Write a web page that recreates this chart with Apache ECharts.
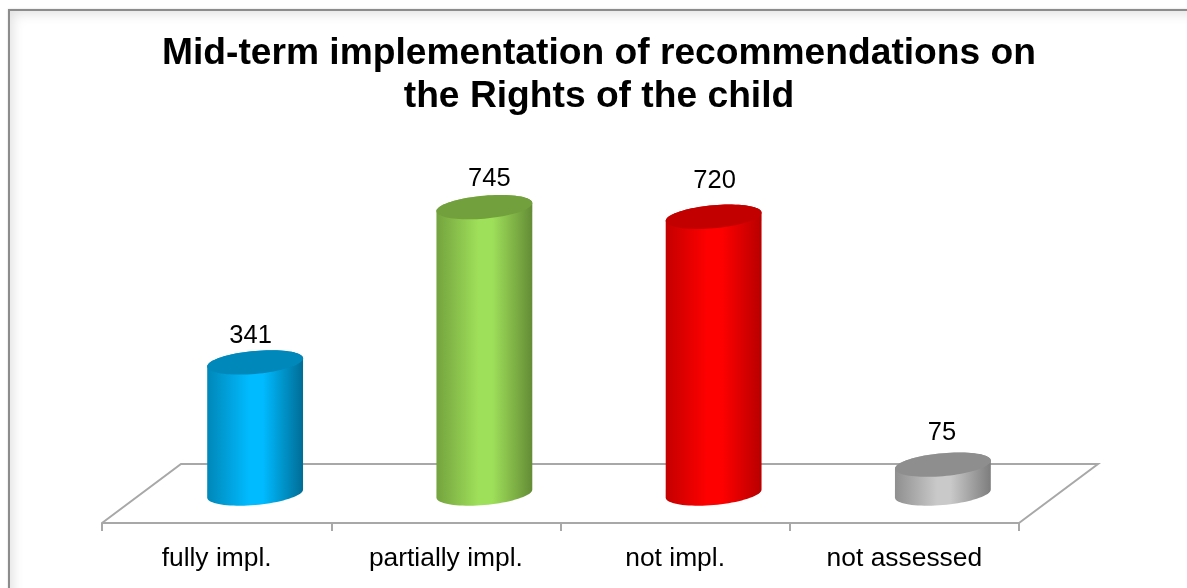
<!DOCTYPE html>
<html>
<head>
<meta charset="utf-8">
<style>
html,body{margin:0;padding:0;background:#fff;width:1187px;height:588px;overflow:hidden}
#frame{position:absolute;left:8px;top:9px;width:1300px;height:700px;border:2px solid #8c8c8c;box-shadow:inset 0 0 12px 3px rgba(0,0,0,.12),0 0 2px rgba(0,0,0,.15);box-sizing:border-box}
#chart{position:absolute;left:0;top:0;width:1187px;height:588px}
</style>
<script src="https://cdn.jsdelivr.net/npm/echarts@6/dist/echarts.min.js"></script>
</head>
<body>
<div id="frame"></div>
<div id="chart"></div>
<script>
var titleText = 'Mid-term implementation of recommendations on\nthe Rights of the child';
var categories = ['fully impl.', 'partially impl.', 'not impl.', 'not assessed'];
var values = [341, 745, 720, 75];

// style only
var palette = [
  {edge:'#0087b8', mid:'#00bbff', dark:'#006d96', top:'#0088ba'},
  {edge:'#74a33e', mid:'#9fe05a', dark:'#648c36', top:'#72a03c'},
  {edge:'#c40000', mid:'#ff0000', dark:'#b80000', top:'#c20000'},
  {edge:'#8f8f8f', mid:'#c9c9c9', dark:'#7d7d7d', top:'#8e8e8e'}
];
var depthX = 79, depthY = 59, floorDrop = 29.5;
var labelShift = [[-4.5, -26], [5, -28], [1, -36], [-1, -32]];
var gridColor = '#a8a8a8';

function ellipsePts(cx, cy, a, b, s, from, to, n) {
  var pts = [];
  for (var i = 0; i <= n; i++) {
    var t = from + (to - from) * i / n;
    pts.push([cx + a * Math.cos(t), cy + b * Math.sin(t) - s * a * Math.cos(t)]);
  }
  return pts;
}

var chart = echarts.init(document.getElementById('chart'));
chart.setOption({
  animation: false,
  backgroundColor: 'transparent',
  title: {
    text: titleText,
    left: 594,
    top: 27,
    textAlign: 'center',
    textStyle: {fontFamily: 'Liberation Sans', fontWeight: 'bold', fontSize: 37.2, lineHeight: 43, color: '#000'}
  },
  grid: {left: 102, right: 168, top: 186, bottom: 588 - 493.5},
  xAxis: {
    type: 'category',
    data: categories,
    offset: floorDrop,
    axisLine: {onZero: false, lineStyle: {color: gridColor, width: 2}},
    axisTick: {show: true, length: 8, lineStyle: {color: gridColor, width: 2}},
    axisLabel: {color: '#000', fontFamily: 'Liberation Sans', fontSize: 26.4, margin: 23, interval: 0},
    splitLine: {show: false}
  },
  yAxis: {type: 'value', min: 0, max: 800, show: false},
  series: [
    {
      type: 'custom',
      coordinateSystem: 'cartesian2d',
      silent: true,
      z: 1,
      data: [[0, 0]],
      renderItem: function (params, api) {
        var c = params.coordSys;
        var x0 = c.x, x1 = c.x + c.width, y = c.y + c.height + floorDrop;
        return {
          type: 'polyline',
          shape: {points: [[x0, y], [x0 + depthX, y - depthY], [x1 + depthX, y - depthY], [x1, y]]},
          style: {stroke: gridColor, lineWidth: 2, fill: null}
        };
      }
    },
    {
      type: 'custom',
      coordinateSystem: 'cartesian2d',
      z: 3,
      encode: {x: 0, y: 1},
      data: values.map(function (v, i) { return [i, v]; }),
      renderItem: function (params, api) {
        var i = api.value(0), v = api.value(1);
        var top = api.coord([i, v]), base = api.coord([i, 0]);
        var cx = top[0] + depthX / 2 - 1;
        var a = api.size([1, 0])[0] * 0.209;
        var b = 11.5, s = 0.085;
        var p = palette[i];
        var body = ellipsePts(cx, base[1], a, b, s, 0, Math.PI, 40)
          .concat(ellipsePts(cx, top[1], a, b, s, Math.PI, 2 * Math.PI, 40));
        return {
          type: 'group',
          children: [
            {
              type: 'polygon',
              shape: {points: body},
              style: {
                fill: new echarts.graphic.LinearGradient(0, 0, 1, 0, [
                  {offset: 0, color: p.edge},
                  {offset: 0.44, color: p.mid},
                  {offset: 0.58, color: p.mid},
                  {offset: 1, color: p.dark}
                ])
              }
            },
            {
              type: 'polygon',
              shape: {points: ellipsePts(cx, top[1], a, b, s, 0, 2 * Math.PI, 80)},
              style: {fill: p.top}
            },
            {
              type: 'text',
              style: {
                x: cx + labelShift[i][0],
                y: top[1] + labelShift[i][1],
                text: String(v),
                fill: '#000',
                font: '25.5px "Liberation Sans"',
                textAlign: 'center',
                textVerticalAlign: 'middle'
              }
            }
          ]
        };
      }
    }
  ]
});
</script>
</body>
</html>
